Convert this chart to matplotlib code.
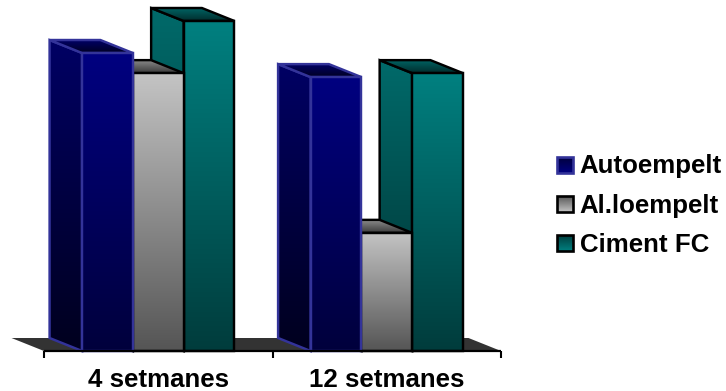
import numpy as np
import matplotlib
matplotlib.use("Agg")
import matplotlib.pyplot as plt
from matplotlib.colors import LinearSegmentedColormap
from matplotlib.patches import Polygon

plt.rcParams["font.family"] = ["Liberation Sans", "DejaVu Sans"]

categories = ["4 setmanes", "12 setmanes"]
series_names = ["Autoempelt", "Al.loempelt", "Ciment FC"]
autoempelt = [90.3, 83.0]
alloempelt = [84.2, 35.8]
ciment_fc = [100.0, 84.2]

W, H = 726, 391
fig = plt.figure(figsize=(W / 100, H / 100), dpi=100, facecolor="white")
ax = fig.add_axes([0, 0, 1, 1])
ax.axis("off")

# Plot scales: one x unit per category, y in value units
PX_X, PX_Y = 228.5, 3.3
X0_PX, Y0_PX = 44, 351
xlim = (-X0_PX / PX_X, (W - X0_PX) / PX_X)
ylim = ((Y0_PX - H) / PX_Y, Y0_PX / PX_Y)
DX, DY = -32.5 / PX_X, 13 / PX_Y
GAP_RATIO = 1.5
BAR_W = 1 / (len(series_names) + GAP_RATIO)

styles = [
    dict(edge="#333399", front=("#000080", "#00003c"), side=("#000064", "#00001e"), top=("#000066", "#000022")),
    dict(edge="#000000", front=("#c4c4c4", "#555555"), side=("#808080", "#303030"), top=("#8a8a8a", "#3a3a3a")),
    dict(edge="#000000", front=("#008080", "#003c3c"), side=("#006a6a", "#003030"), top=("#006464", "#002c2c")),
]
LW = 1.75


def gradient_face(axes, pts, colors, z, edge=None, lw=LW):
    """Fill a polygon with a vertical gradient and stroke its outline."""
    pts = np.asarray(pts, dtype=float)
    cmap = LinearSegmentedColormap.from_list("face", colors)
    x0, x1 = pts[:, 0].min(), pts[:, 0].max()
    y0, y1 = pts[:, 1].min(), pts[:, 1].max()
    grad = np.linspace(0, 1, 256).reshape(-1, 1)
    im = axes.imshow(grad, cmap=cmap, extent=(x0, x1, y0, y1), origin="upper",
                     aspect="auto", interpolation="bilinear", zorder=z)
    clip = Polygon(pts, closed=True, transform=axes.transData)
    im.set_clip_path(clip)
    if edge is not None:
        axes.add_patch(Polygon(pts, closed=True, fill=False, edgecolor=edge,
                               linewidth=lw, joinstyle="miter", zorder=z + 0.1))


# Floor of the 3D plot
n_cat = len(categories)
ax.add_patch(Polygon([(0, 0), (n_cat, 0), (n_cat + DX, DY), (DX, DY)],
                     closed=True, facecolor="#333333", edgecolor="none", zorder=1))

# Bars are painted from the rightmost back to front so neighbours overlap correctly
values = [autoempelt, alloempelt, ciment_fc]
z = 2
for i in reversed(range(n_cat)):
    for s in reversed(range(len(values))):
        v = values[s][i]
        st = styles[s]
        x = i + (GAP_RATIO / 2 + s) * BAR_W
        side = [(x, 0), (x, v), (x + DX, v + DY), (x + DX, DY)]
        top = [(x, v), (x + BAR_W, v), (x + BAR_W + DX, v + DY), (x + DX, v + DY)]
        front = [(x, 0), (x + BAR_W, 0), (x + BAR_W, v), (x, v)]
        gradient_face(ax, side, st["side"], z, st["edge"])
        gradient_face(ax, top, st["top"], z + 1, st["edge"])
        gradient_face(ax, front, st["front"], z + 2, st["edge"])
        z += 3

# Category axis with ticks between groups
ax.plot([0, n_cat], [0, 0], color="black", lw=1.6, zorder=z, solid_capstyle="butt")
for t in range(n_cat + 1):
    ax.plot([t, t], [0, -7 / PX_Y], color="black", lw=1.5, zorder=z, solid_capstyle="butt")
for i, name in enumerate(categories):
    ax.text(i + 0.5, -29.3 / PX_Y, name, ha="center", va="center",
            fontsize=18.6, fontweight="bold", color="black", zorder=z)

ax.set_xlim(*xlim)
ax.set_ylim(*ylim)

# Legend drawn on an overlay in pixel coordinates
lax = fig.add_axes([0, 0, 1, 1])
lax.axis("off")
lax.patch.set_alpha(0)
legend_y = [165, 204, 243]
for name, y, st in zip(series_names, legend_y, styles):
    square = [(556.5, y - 8), (573, y - 8), (573, y + 8), (556.5, y + 8)]
    gradient_face(lax, square, st["front"], 3, st["edge"], lw=1.9)
    lax.text(579.5, y + 1.5, name, ha="left", va="center", fontsize=18.6,
             fontweight="bold", color="black", zorder=5)
lax.set_xlim(0, W)
lax.set_ylim(H, 0)

fig.savefig("out.png", dpi=100)
